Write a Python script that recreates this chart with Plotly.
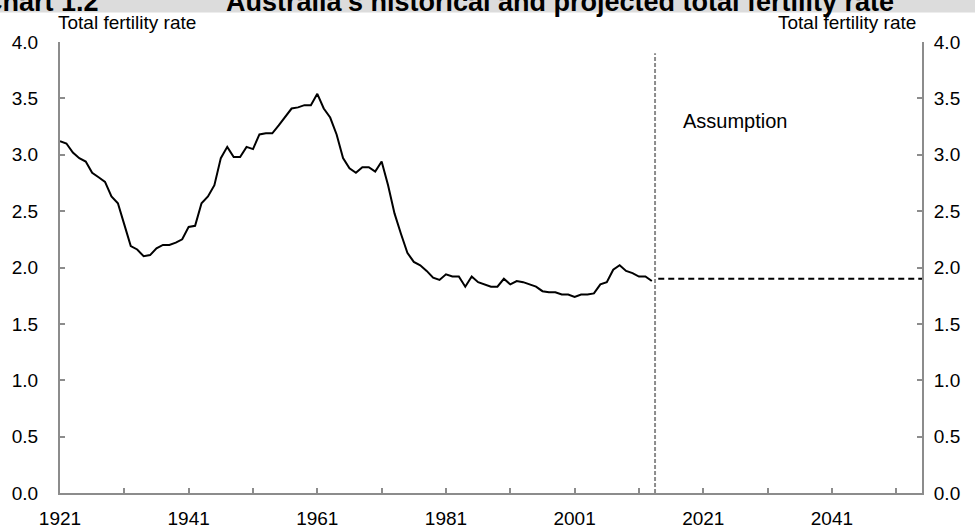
import plotly.graph_objects as go

# ---------------- data ----------------
hist_years = list(range(1921, 2014))
hist_tfr = [
    3.12, 3.10, 3.02, 2.97, 2.94, 2.84, 2.80, 2.76, 2.63, 2.57,   # 1921-1930
    2.38, 2.19, 2.16, 2.10, 2.11, 2.17, 2.20, 2.20, 2.22, 2.25,   # 1931-1940
    2.36, 2.37, 2.57, 2.63, 2.73, 2.97, 3.07, 2.98, 2.98, 3.07,   # 1941-1950
    3.05, 3.18, 3.19, 3.19, 3.26, 3.33, 3.41, 3.42, 3.44, 3.44,   # 1951-1960
    3.54, 3.41, 3.33, 3.18, 2.97, 2.88, 2.84, 2.89, 2.89, 2.85,   # 1961-1970
    2.94, 2.73, 2.48, 2.30, 2.13, 2.05, 2.02, 1.97, 1.91, 1.89,   # 1971-1980
    1.94, 1.92, 1.92, 1.83, 1.92, 1.87, 1.85, 1.83, 1.83, 1.90,   # 1981-1990
    1.85, 1.88, 1.87, 1.85, 1.83, 1.79, 1.78, 1.78, 1.76, 1.76,   # 1991-2000
    1.74, 1.76, 1.76, 1.77, 1.85, 1.87, 1.98, 2.02, 1.97, 1.95,   # 2001-2010
    1.92, 1.92, 1.88,                                             # 2011-2013
]
proj_years = [2014, 2055]
proj_tfr = [1.9, 1.9]

x_range = [1921, 2055]
x_tick_years = [1921, 1931, 1941, 1951, 1961, 1971, 1981, 1991, 2001, 2011, 2021, 2031, 2041, 2051]
x_tick_labels = ["1921", "", "1941", "", "1961", "", "1981", "", "2001", "", "2021", "", "2041", ""]
y_tick_vals = [0.0, 0.5, 1.0, 1.5, 2.0, 2.5, 3.0, 3.5, 4.0]
y_tick_labels = ["0.0", "0.5", "1.0", "1.5", "2.0", "2.5", "3.0", "3.5", "4.0"]

title_num = "Chart 1.2"
title_text = "Australia's historical and projected total fertility rate"
axis_title = "Total fertility rate"
assumption_label = "Assumption"

# ---------------- style ----------------
FONT = "Liberation Sans, Arial, sans-serif"
AXIS_GREY = "#8c8c8c"
W, H = 975, 530
ML, MR, MT, MB = 60, 53, 42, 37
PW, PH = W - ML - MR, H - MT - MB


def px_x(px):
    return (px - ML) / PW


def px_y(py):
    return (H - MB - py) / PH


boundary = (hist_years[-1] + proj_years[0]) / 2

fig = go.Figure()
fig.add_trace(go.Scatter(x=hist_years, y=hist_tfr, mode="lines",
                         line=dict(color="black", width=2),
                         showlegend=False, hoverinfo="skip"))
fig.add_trace(go.Scatter(x=proj_years, y=proj_tfr, mode="lines",
                         line=dict(color="black", width=2, dash="6px,4px"),
                         showlegend=False, hoverinfo="skip"))
# invisible trace to activate right-hand axis
fig.add_trace(go.Scatter(x=hist_years[:1], y=hist_tfr[:1], yaxis="y2", mode="lines",
                         opacity=0, showlegend=False, hoverinfo="skip"))

# vertical divider
fig.add_shape(type="line", xref="x", yref="y", x0=boundary, x1=boundary, y0=0, y1=3.9,
              line=dict(color=AXIS_GREY, width=2, dash="4px,2px"))

# title band
fig.add_shape(type="rect", xref="paper", yref="paper",
              x0=px_x(-5), x1=px_x(W + 5), y0=px_y(12.5), y1=px_y(-5),
              fillcolor="#dcdcdc", line=dict(width=0), layer="below")

tick_font = dict(family=FONT, size=19, color="black")
common = dict(showgrid=False, zeroline=False, tickfont=tick_font, automargin=False,
              ticks="inside", ticklen=5, tickcolor=AXIS_GREY, tickwidth=1.5,
              showline=True, linecolor=AXIS_GREY, linewidth=2)

fig.update_layout(
    width=W, height=H,
    margin=dict(l=ML, r=MR, t=MT, b=MB, autoexpand=False),
    paper_bgcolor="white", plot_bgcolor="white",
    showlegend=False,
    xaxis=dict(range=x_range, tickmode="array", tickvals=x_tick_years, ticktext=x_tick_labels,
               ticklabelstandoff=7, **common),
    yaxis=dict(range=[0, 4], tickmode="array", tickvals=y_tick_vals, ticktext=y_tick_labels,
               ticklabelstandoff=16, **common),
    yaxis2=dict(range=[0, 4], overlaying="y", side="right", tickmode="array",
                tickvals=y_tick_vals, ticktext=y_tick_labels,
                ticklabelstandoff=6, **common),
)

ann_font = dict(family=FONT, size=19, color="black")
fig.add_annotation(text=axis_title, xref="paper", yref="paper", x=px_x(56), y=px_y(23),
                   xanchor="left", yanchor="middle", showarrow=False, font=ann_font)
fig.add_annotation(text=axis_title, xref="paper", yref="paper", x=px_x(918), y=px_y(23),
                   xanchor="right", yanchor="middle", showarrow=False, font=ann_font)
fig.add_annotation(text=assumption_label, xref="x", yref="y", x=2017.5, y=3.30,
                   xanchor="left", yanchor="middle", showarrow=False,
                   font=dict(family=FONT, size=20, color="black"))

title_font = dict(family=FONT, size=27, color="black")
fig.add_annotation(text="<b>" + title_num + "</b>", xref="paper", yref="paper",
                   x=px_x(101), y=px_y(19), xanchor="right", yanchor="bottom",
                   showarrow=False, font=title_font)
fig.add_annotation(text="<b>" + title_text + "</b>", xref="paper", yref="paper",
                   x=px_x(224), y=px_y(19), xanchor="left", yanchor="bottom",
                   showarrow=False, font=title_font)

fig.write_html("out.html", config={"displayModeBar": False},
               post_script="document.body.style.margin='0';document.body.style.overflow='hidden';")
